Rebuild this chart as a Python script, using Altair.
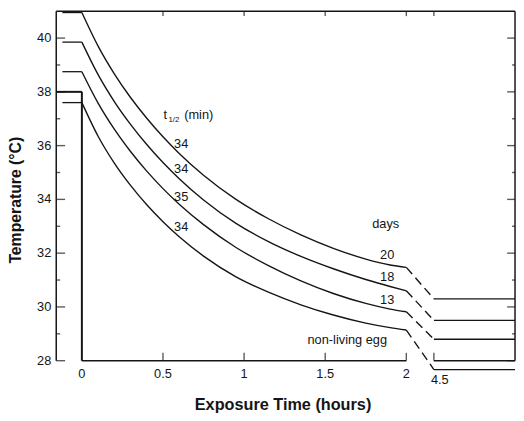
import altair as alt
import pandas as pd

# ---------------- values ----------------
SERIES = ["20", "18", "13", "non-living egg"]
T_GRID = [0, 0.1, 0.2, 0.3, 0.4, 0.5, 0.6, 0.75, 0.95, 1.15, 1.35, 1.55, 1.75, 1.9, 2.0]
TEMP_20 = [40.95, 39.70, 38.67, 37.79, 37.02, 36.33, 35.71, 34.90, 34.00, 33.28, 32.68, 32.18, 31.78, 31.56, 31.47]
TEMP_18 = [39.85, 38.64, 37.64, 36.79, 36.04, 35.37, 34.77, 33.98, 33.11, 32.43, 31.88, 31.42, 31.02, 30.76, 30.60]
TEMP_13 = [38.75, 37.58, 36.61, 35.78, 35.05, 34.40, 33.82, 33.06, 32.21, 31.54, 30.97, 30.50, 30.13, 29.92, 29.82]
TEMP_DEAD = [37.60, 36.35, 35.35, 34.52, 33.80, 33.17, 32.61, 31.89, 31.12, 30.55, 30.08, 29.70, 29.40, 29.23, 29.14]
FINAL_LEVEL = [30.3, 29.5, 28.8, 27.67]          # temperatures at 4.5-5 h
LATE_HOURS = [4.5, 5.0]
PRE_START = -0.12                                # start of the pre-exposure level lines
HEATER_TEMP = 38.0

HALF_LIFE_LABELS = ["34", "34", "35", "34"]
HALF_LIFE_X = [0.612, 0.612, 0.612, 0.612]
HALF_LIFE_Y = [36.07, 35.13, 34.10, 32.96]
DAYS_LABELS = ["days", "20", "18", "13", "non-living egg"]
DAYS_X = [1.873, 1.882, 1.882, 1.882, 1.636]
DAYS_Y = [33.07, 31.94, 31.10, 30.24, 28.78]

X_TICKS_LEFT = [0, 0.5, 1, 1.5, 2]
X_LABELS_LEFT = ["0", "0.5", "1", "1.5", "2"]
X_LABELS_RIGHT = ["4.5", "5"]
Y_MAJOR = [28, 30, 32, 34, 36, 38, 40]
Y_MINOR = [29, 31, 33, 35, 37, 39]
X_TITLE = "Exposure Time (hours)"
Y_TITLE = "Temperature (°C)"

# broken axis: 4.5 h is drawn at 2.17 on the continuous scale
BREAK_POS = 2.17
LATE_SHIFT = LATE_HOURS[0] - BREAK_POS
X_MIN, X_MAX = -0.158, LATE_HOURS[1] - LATE_SHIFT
Y_MIN, Y_MAX = 28, 41

INK = "#151515"
FONT = "Liberation Sans"

XS = alt.Scale(domain=[X_MIN, X_MAX], nice=False, zero=False)
YS = alt.Scale(domain=[Y_MIN, Y_MAX], nice=False, zero=False)


def xq(f):
    return alt.X(f, type="quantitative", scale=XS, axis=None)


def yq(f):
    return alt.Y(f, type="quantitative", scale=YS, axis=None)


all_temps = [TEMP_20, TEMP_18, TEMP_13, TEMP_DEAD]

# curves
curve_rows = []
for s, temps in zip(SERIES, all_temps):
    for t, v in zip(T_GRID, temps):
        curve_rows.append({"series": s, "x": t, "y": v})
curves_df = pd.DataFrame(curve_rows)

# dashed links across the break
dash_rows = []
for s, temps, fin in zip(SERIES, all_temps, FINAL_LEVEL):
    dash_rows.append({"series": s, "x": T_GRID[-1], "y": temps[-1]})
    dash_rows.append({"series": s, "x": BREAK_POS, "y": fin})
dash_df = pd.DataFrame(dash_rows)

# straight segments: frame, heater bracket, pre levels, late levels
seg_rows = [
    {"x": X_MIN, "x2": X_MIN, "y": Y_MIN, "y2": Y_MAX, "w": 1.5},
    {"x": X_MAX, "x2": X_MAX, "y": Y_MIN, "y2": Y_MAX, "w": 1.5},
    {"x": X_MIN, "x2": X_MAX, "y": Y_MAX, "y2": Y_MAX, "w": 1.5},
    {"x": X_TICKS_LEFT[0], "x2": X_TICKS_LEFT[-1], "y": Y_MIN, "y2": Y_MIN, "w": 1.5},
    {"x": BREAK_POS, "x2": X_MAX, "y": Y_MIN, "y2": Y_MIN, "w": 1.5},
    {"x": X_MIN, "x2": 0, "y": HEATER_TEMP, "y2": HEATER_TEMP, "w": 2.0},
    {"x": 0, "x2": 0, "y": Y_MIN, "y2": HEATER_TEMP, "w": 2.0},
]
for temps in all_temps:
    seg_rows.append({"x": PRE_START, "x2": 0, "y": temps[0], "y2": temps[0], "w": 1.3})
for fin in FINAL_LEVEL:
    seg_rows.append({"x": BREAK_POS, "x2": X_MAX, "y": fin, "y2": fin, "w": 1.4})
seg_df = pd.DataFrame(seg_rows)

# ticks (inward)
bottom_ticks = pd.DataFrame({"x": X_TICKS_LEFT[1:] + [BREAK_POS], "y": Y_MIN})
top_ticks = pd.DataFrame({"x": X_TICKS_LEFT[1:] + [BREAK_POS], "y": Y_MAX})
left_major = pd.DataFrame({"x": X_MIN, "y": Y_MAJOR})
left_minor = pd.DataFrame({"x": X_MIN, "y": Y_MINOR})
right_major = pd.DataFrame({"x": X_MAX, "y": Y_MAJOR})
right_minor = pd.DataFrame({"x": X_MAX, "y": Y_MINOR})

xlab_left = pd.DataFrame({"x": X_TICKS_LEFT, "y": Y_MIN, "t": X_LABELS_LEFT})
xlab_right = pd.DataFrame({"x": [h - LATE_SHIFT for h in LATE_HOURS], "y": Y_MIN, "t": X_LABELS_RIGHT})
ylab = pd.DataFrame({"x": X_MIN, "y": Y_MAJOR, "t": [str(v) for v in Y_MAJOR]})

hl_df = pd.DataFrame({"x": HALF_LIFE_X, "y": HALF_LIFE_Y, "t": HALF_LIFE_LABELS})
days_df = pd.DataFrame({"x": DAYS_X, "y": DAYS_Y, "t": DAYS_LABELS})
head_df = pd.DataFrame({"x": [0.503], "y": [37.15]})
xtitle_df = pd.DataFrame({"x": [1.24], "y": [Y_MIN], "t": [X_TITLE]})
ytitle_df = pd.DataFrame({"x": [X_MIN], "y": [33.97], "t": [Y_TITLE]})

# ---------------- layers ----------------
segments = alt.Chart(seg_df).mark_rule(color=INK).encode(
    x=xq("x"), x2="x2", y=yq("y"), y2="y2",
    strokeWidth=alt.StrokeWidth("w:Q", scale=None),
)

curves = alt.Chart(curves_df).mark_line(color=INK, strokeWidth=1.4, interpolate="monotone").encode(
    x=xq("x"), y=yq("y"), detail="series:N", order="x:Q"
)

dashes = alt.Chart(dash_df).mark_line(color=INK, strokeWidth=1.4, strokeDash=[9, 5]).encode(
    x=xq("x"), y=yq("y"), detail="series:N"
)


def vtick(df, size, up):
    return alt.Chart(df).mark_tick(orient="vertical", size=size, thickness=1.4, color=INK,
                                   yOffset=-size / 2 if up else size / 2).encode(x=xq("x"), y=yq("y"))


def htick(df, size, right):
    return alt.Chart(df).mark_tick(orient="horizontal", size=size, thickness=1.4, color=INK,
                                   xOffset=size / 2 if right else -size / 2).encode(x=xq("x"), y=yq("y"))


ticks = [
    vtick(bottom_ticks, 8, True),
    vtick(top_ticks, 5, False),
    htick(left_major, 9, True),
    htick(left_minor, 4, True),
    htick(right_major, 8, False),
    htick(right_minor, 3, False),
]


def label(df, **kw):
    props = dict(font=FONT, fontSize=13, color=INK, baseline="middle")
    props.update(kw)
    return alt.Chart(df).mark_text(**props).encode(x=xq("x"), y=yq("y"), text="t:N")


xl_left = label(xlab_left, dy=14)
xl_right = label(xlab_right, dy=20, dx=6)
yl = label(ylab, dx=-5, align="right")
hl_text = label(hl_df)
days_text = label(days_df)
x_title = label(xtitle_df, fontSize=16.5, fontWeight="bold", dy=45)
y_title = label(ytitle_df, fontSize=16, fontWeight="bold", angle=270, dy=-41)

head_t = alt.Chart(head_df).mark_text(font=FONT, fontSize=13, color=INK, align="left", baseline="middle", text="t").encode(
    x=xq("x"), y=yq("y"))
head_sub = alt.Chart(head_df).mark_text(font=FONT, fontSize=8, color=INK, align="left", baseline="middle", text="1/2",
                                        dx=5, dy=5).encode(x=xq("x"), y=yq("y"))
head_min = alt.Chart(head_df).mark_text(font=FONT, fontSize=13, color=INK, align="left", baseline="middle", text="(min)",
                                        dx=21).encode(x=xq("x"), y=yq("y"))

chart = alt.layer(
    segments, *ticks, curves, dashes, xl_left, xl_right, yl, hl_text, days_text,
    x_title, y_title, head_t, head_sub, head_min
).properties(
    width=466, height=355,
    autosize=alt.AutoSizeParams(type="none"),
    padding={"left": 49, "top": 0, "right": 1, "bottom": 58},
    background="white",
).configure_view(stroke=None)

chart.save("out.html", embed_options={"renderer": "svg", "actions": False})
